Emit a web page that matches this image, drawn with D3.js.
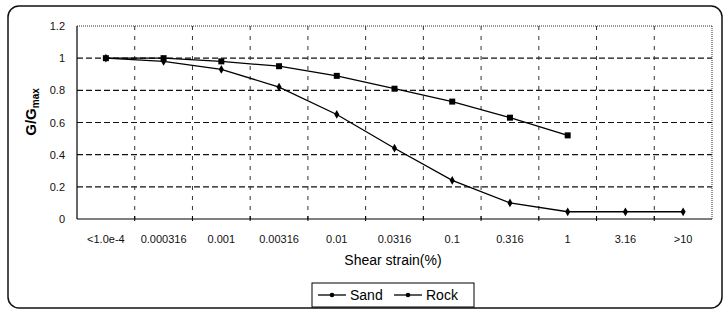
<!DOCTYPE html>
<meta charset="utf-8">
<style>
body { margin: 0; background: #fff; }
svg { font-family: "Liberation Sans", Arial, sans-serif; }
.tick text { font-size: 11px; fill: #111; }
.grid line { stroke: #111; stroke-width: 1.2; stroke-dasharray: 6,3; }
.vgrid line { stroke: #333; stroke-dasharray: 4,6; }
.domain { display: none; }
</style>
<svg width="725" height="311"></svg>
<script src="https://d3js.org/d3.v7.min.js"></script>
<script>
// G/Gmax vs shear strain, two soil curves
var categories = ["<1.0e-4", "0.000316", "0.001", "0.00316", "0.01", "0.0316",
                  "0.1", "0.316", "1", "3.16", ">10"];
var sand = [1.0, 0.98, 0.93, 0.82, 0.65, 0.44, 0.24, 0.10, 0.045, 0.045, 0.045];
var rock = [1.0, 1.0, 0.98, 0.95, 0.89, 0.81, 0.73, 0.63, 0.52];
var yTicks = [0, 0.2, 0.4, 0.6, 0.8, 1, 1.2];

var svg = d3.select("svg");

// outer frame
svg.append("rect")
    .attr("x", 8).attr("y", 6)
    .attr("width", 714).attr("height", 302)
    .attr("rx", 11)
    .attr("fill", "none")
    .attr("stroke", "#111")
    .attr("stroke-width", 1.5);

var plotL = 77, plotR = 712, plotT = 26, plotB = 219;
var width = plotR - plotL, height = plotB - plotT;

var g = svg.append("g").attr("transform", "translate(" + plotL + "," + plotT + ")");

var xScale = d3.scaleBand().domain(categories).range([0, width]);
var yScale = d3.scaleLinear().domain([0, 1.2]).range([height, 0]);

// horizontal gridlines
g.append("g")
    .attr("class", "grid")
    .selectAll("line")
    .data(yTicks.filter(function(d) { return d > 0 && d < 1.2; }))
    .enter().append("line")
        .attr("x1", 0).attr("x2", width)
        .attr("y1", function(d) { return yScale(d); })
        .attr("y2", function(d) { return yScale(d); });

// vertical gridlines at band boundaries
var bounds = categories.slice(1).map(function(c) { return xScale(c); });
g.append("g")
    .attr("class", "vgrid")
    .selectAll("line")
    .data(bounds)
    .enter().append("line")
        .attr("x1", function(d) { return d; })
        .attr("x2", function(d) { return d; })
        .attr("y1", 0).attr("y2", height);

// top and right dotted borders
g.append("line").attr("x1", 0).attr("x2", width).attr("y1", 0).attr("y2", 0)
    .attr("stroke", "#333").attr("stroke-dasharray", "1,1");
g.append("line").attr("x1", width).attr("x2", width).attr("y1", 0).attr("y2", height)
    .attr("stroke", "#333").attr("stroke-dasharray", "1,1");

// axes lines
g.append("line").attr("x1", 0).attr("x2", 0).attr("y1", 0).attr("y2", height)
    .attr("stroke", "#000").attr("stroke-width", 1.2);
g.append("line").attr("x1", 0).attr("x2", width).attr("y1", height).attr("y2", height)
    .attr("stroke", "#000").attr("stroke-width", 1.2);

// bottom tick marks
g.append("g").selectAll("line")
    .data(bounds)
    .enter().append("line")
        .attr("x1", function(d) { return d; })
        .attr("x2", function(d) { return d; })
        .attr("y1", height - 3).attr("y2", height + 2)
        .attr("stroke", "#000");

// y axis labels
g.append("g")
    .call(d3.axisLeft(yScale).tickValues(yTicks).tickSize(0).tickPadding(12)
        .tickFormat(function(d) { return d3.format("")(+d.toFixed(1)); }));

// x axis labels
g.append("g")
    .attr("transform", "translate(0," + height + ")")
    .call(d3.axisBottom(xScale).tickSize(0).tickPadding(16));

// axis titles
svg.append("text")
    .attr("x", 393).attr("y", 265)
    .attr("text-anchor", "middle")
    .style("font-size", "14px")
    .text("Shear strain(%)");

var yl = svg.append("text")
    .attr("transform", "translate(36,112) rotate(-90)")
    .attr("text-anchor", "middle")
    .style("font-size", "15px")
    .style("font-weight", "bold");
yl.append("tspan").text("G/G");
yl.append("tspan").attr("dy", 3).style("font-size", "10px").text("max");

// series
var line = d3.line()
    .x(function(d, i) { return xScale(categories[i]) + xScale.bandwidth() / 2; })
    .y(function(d) { return yScale(d); });

function drawSeries(data, marker) {
    g.append("path")
        .datum(data)
        .attr("fill", "none")
        .attr("stroke", "#000")
        .attr("stroke-width", 1.3)
        .attr("d", line);
    g.append("g").selectAll("path")
        .data(data)
        .enter().append("path")
            .attr("transform", function(d, i) {
                return "translate(" + (xScale(categories[i]) + xScale.bandwidth() / 2) + "," + yScale(d) + ")";
            })
            .attr("d", d3.symbol().type(marker.type).size(marker.size))
            .attr("fill", "#000");
}
drawSeries(sand, {type: d3.symbolDiamond, size: 22});
drawSeries(rock, {type: d3.symbolSquare, size: 36});

// legend
var lg = svg.append("g").attr("transform", "translate(312,283)");
lg.append("rect").attr("width", 162).attr("height", 24)
    .attr("fill", "#fff").attr("stroke", "#000");
var items = [{name: "Sand", x: 6}, {name: "Rock", x: 82}];
items.forEach(function(it) {
    lg.append("line").attr("x1", it.x).attr("x2", it.x + 28)
        .attr("y1", 12).attr("y2", 12).attr("stroke", "#000").attr("stroke-width", 1.3);
    lg.append("circle").attr("cx", it.x + 14).attr("cy", 12).attr("r", 2.3).attr("fill", "#000");
    lg.append("text").attr("x", it.x + 32).attr("y", 17)
        .style("font-size", "14px").text(it.name);
});
</script>
